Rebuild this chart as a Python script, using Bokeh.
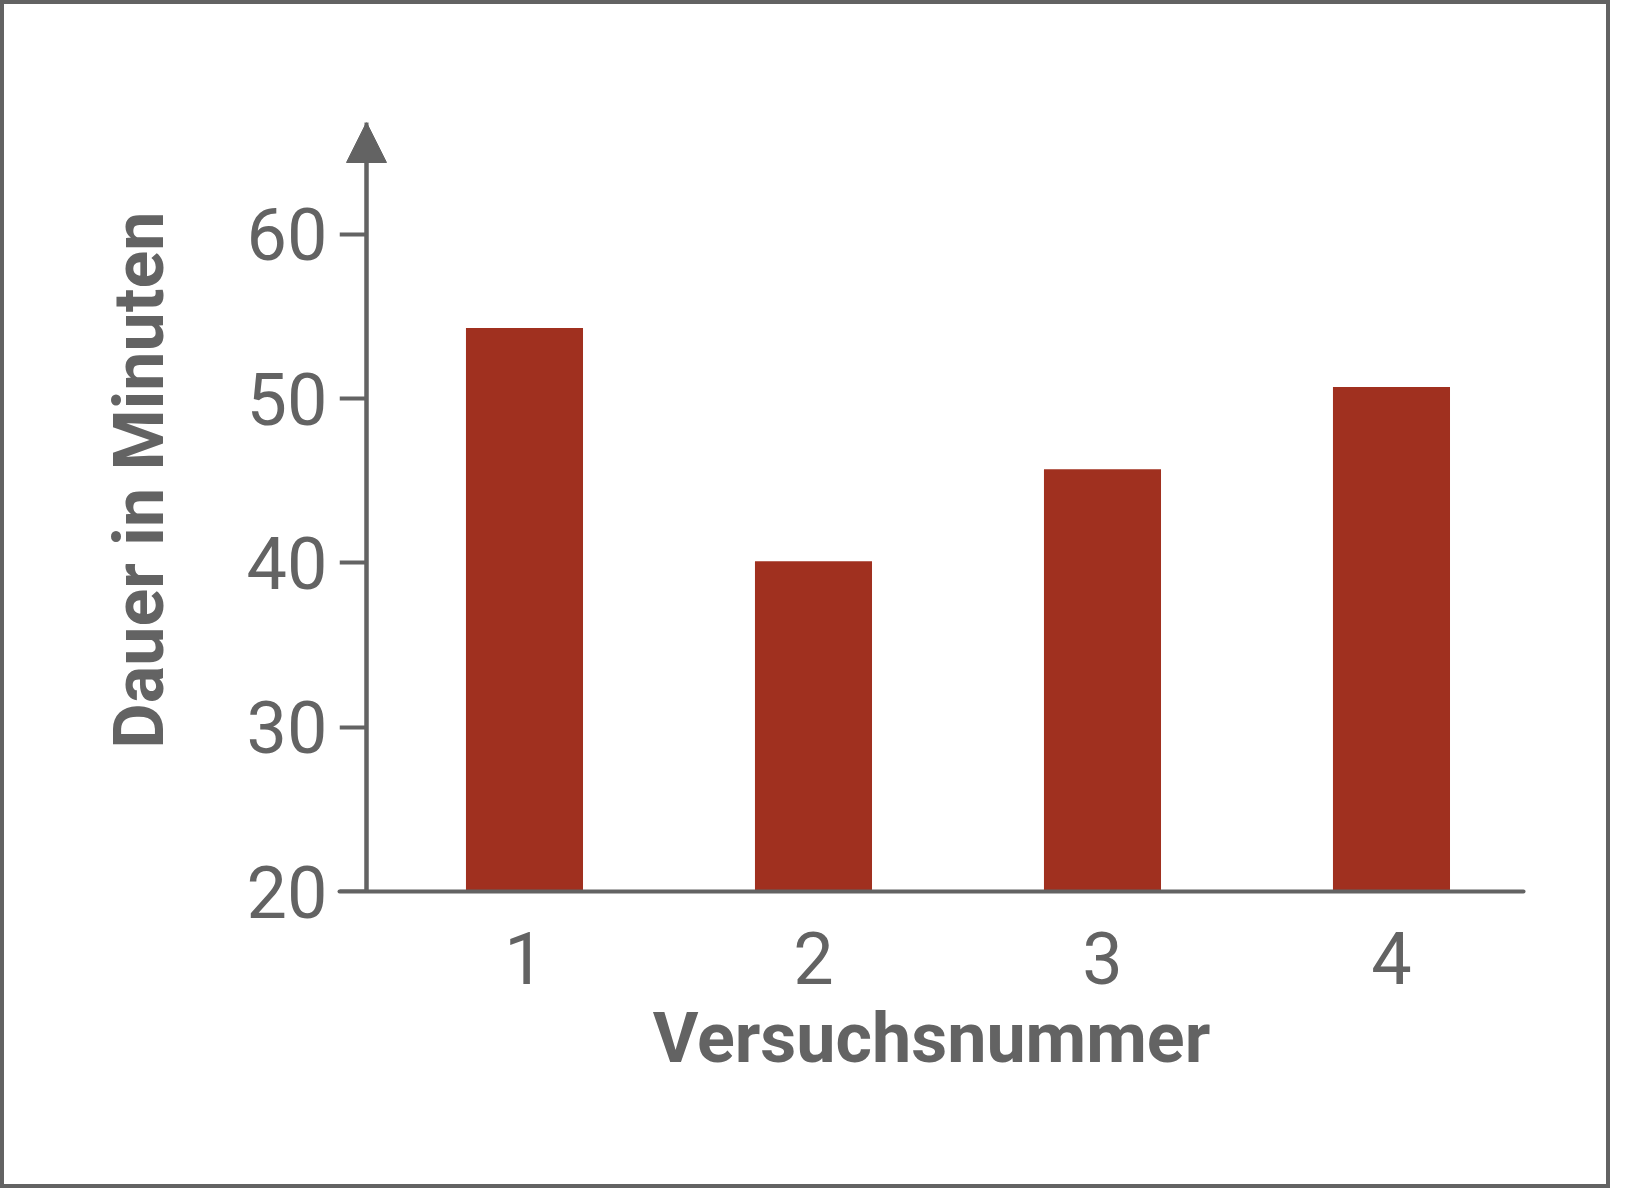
from bokeh.plotting import figure
from bokeh.models import Range1d, FixedTicker, Arrow, NormalHead, LinearAxis, Title
from bokeh.embed import file_html
from bokeh.resources import INLINE

# Data
versuche = [1, 2, 3, 4]
dauer = [54.3, 40.1, 45.7, 50.7]
y_ticks = [20, 30, 40, 50, 60]
x_label = "Versuchsnummer"
y_label = "Dauer in Minuten"

GRAY = "#636363"
BAR = "#a0301f"
FONT = "Roboto"

x0, x1 = 0.3599, 4.4568
x_axis_pos = 0.4533
y0, y1 = 20, 66.8

p = figure(
    width=1610, height=1188,
    x_range=Range1d(x0, x1), y_range=Range1d(y0, y1),
    output_backend="svg", toolbar_location=None,
    y_axis_location=None,
    min_border_left=335, min_border_right=91,
    min_border_top=118, min_border_bottom=301,
)
p.styles = {"border": f"4px solid {GRAY}"}
p.outline_line_color = None
p.grid.visible = False
p.background_fill_color = "white"
p.border_fill_color = "white"

p.vbar(x=versuche, top=dauer, bottom=y0, width=0.405, fill_color=BAR, line_color=None)

# y axis: tick labels (at the frame edge)
ylab = LinearAxis(
    ticker=FixedTicker(ticks=y_ticks),
    axis_line_color=None,
    major_tick_line_color=None, major_tick_out=0, major_tick_in=0,
    minor_tick_line_color=None,
    major_label_text_font=FONT, major_label_text_font_size="72px",
    major_label_text_color=GRAY, major_label_standoff=12,
)
p.add_layout(ylab, "left")

# y axis: line and ticks
yline = LinearAxis(
    fixed_location=x_axis_pos,
    ticker=FixedTicker(ticks=y_ticks),
    axis_line_color=GRAY, axis_line_width=4,
    major_tick_line_color=GRAY, major_tick_line_width=4,
    major_tick_out=27, major_tick_in=0,
    minor_tick_line_color=None,
    major_label_text_color=None, major_label_text_font_size="0px",
    major_label_standoff=0,
)
p.add_layout(yline, "left")

# y axis title
p.add_layout(Title(
    text=y_label, align="right", offset=89, standoff=127,
    text_font=FONT, text_font_style="bold", text_font_size="70px",
    text_color=GRAY,
), "left")

# x axis
xa = p.xaxis[0]
xa.ticker = FixedTicker(ticks=versuche)
xa.axis_line_color = GRAY
xa.axis_line_width = 4
xa.axis_line_cap = "round"
xa.major_tick_line_color = None
xa.major_tick_out = 0
xa.major_tick_in = 0
xa.minor_tick_line_color = None
xa.major_label_text_font = FONT
xa.major_label_text_font_size = "72px"
xa.major_label_text_color = GRAY
xa.major_label_standoff = 40
xa.axis_label = x_label
xa.axis_label_text_font = FONT
xa.axis_label_text_font_style = "bold"
xa.axis_label_text_font_size = "70px"
xa.axis_label_text_color = GRAY
xa.axis_label_standoff = 10

# arrow head on y axis
p.add_layout(Arrow(
    end=NormalHead(size=40, fill_color=GRAY, line_color=GRAY, line_width=1),
    x_start=x_axis_pos, y_start=y0, x_end=x_axis_pos, y_end=y1,
    line_color=GRAY, line_width=4,
))

open("out.html", "w").write(file_html(p, INLINE))
